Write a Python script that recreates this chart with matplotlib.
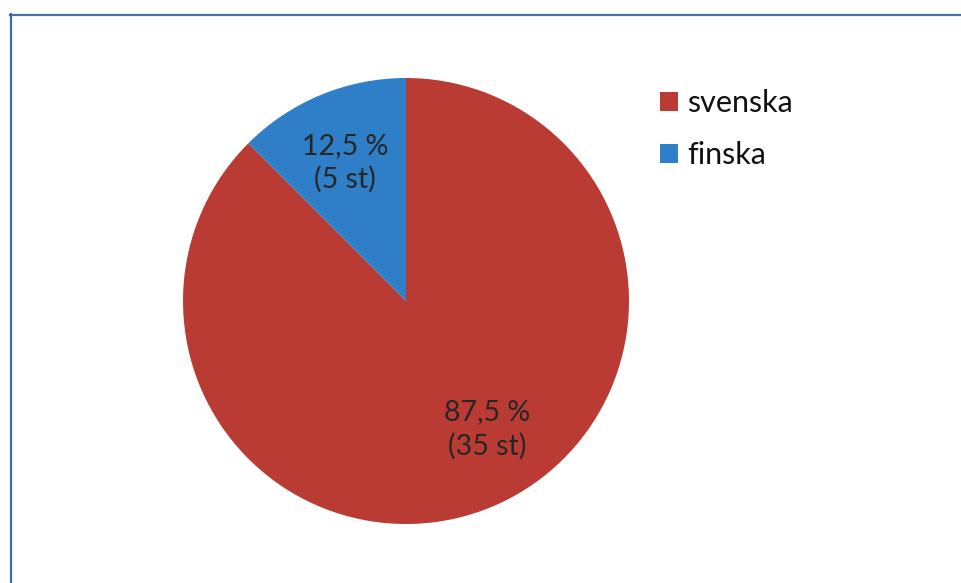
import matplotlib
matplotlib.use("Agg")
import matplotlib.pyplot as plt
from matplotlib.lines import Line2D

# Language distribution
categories = ["svenska", "finska"]
counts = [35, 5]
percent_labels = ["87,5 %", "12,5 %"]
colors = ["#BA3B33", "#2F7FC8"]

plt.rcParams["font.family"] = ["Lato", "DejaVu Sans"]

W, H = 962, 583
fig = plt.figure(figsize=(W / 100, H / 100), dpi=100)
fig.patch.set_facecolor("white")

# frame lines along the top and left edges
fig.add_artist(Line2D([10 / W, 1], [1 - 14.5 / H, 1 - 14.5 / H],
                      transform=fig.transFigure, color="#4A6FA5", lw=1.6))
fig.add_artist(Line2D([10.5 / W, 10.5 / W], [0, 1 - 14 / H],
                      transform=fig.transFigure, color="#3F6DB5", lw=1.6))

ax = fig.add_axes([183 / W, 1 - 524 / H, 446 / W, 446 / H])
wedges, _ = ax.pie(counts, colors=colors, startangle=90, counterclock=False,
                   radius=1.0, wedgeprops=dict(linewidth=0))
ax.set_xlim(-1, 1)
ax.set_ylim(-1, 1)
ax.set_aspect("auto")
ax.axis("off")

label_pos = [(0.363, -0.574), (-0.274, 0.619)]
for (x, y), pct, n in zip(label_pos, percent_labels, counts):
    ax.text(x, y, f"{pct}\n({n} st)", ha="center", va="center",
            fontsize=20.5, color="#262626", linespacing=1.35)

leg = fig.legend(wedges, categories, loc="upper left",
                 bbox_to_anchor=(648 / W, 1 - 77 / H), frameon=False,
                 fontsize=22, handlelength=0.58, handleheight=0.58,
                 handletextpad=0.3, labelspacing=0.78, borderaxespad=0)
for t in leg.get_texts():
    t.set_color("#111111")

fig.savefig("out.png", dpi=100, facecolor="white")
